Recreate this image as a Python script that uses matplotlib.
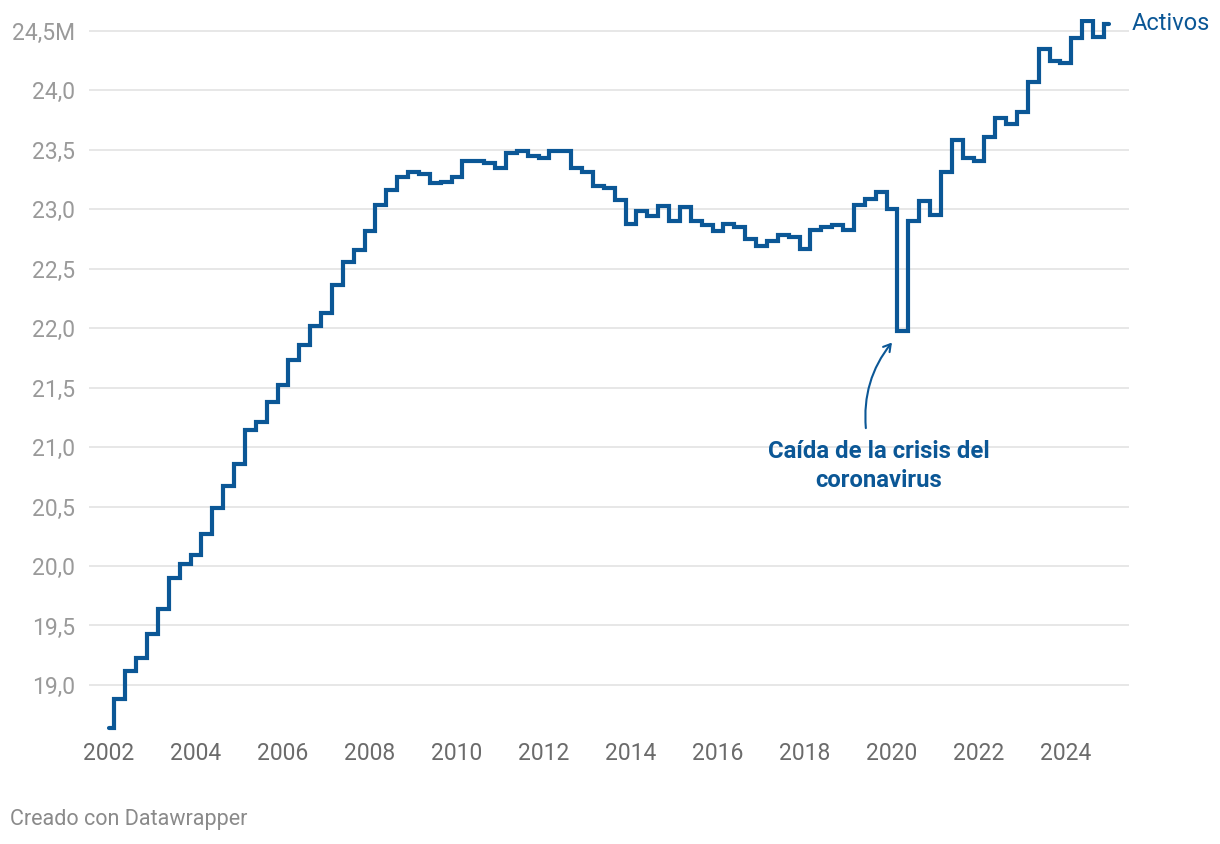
import numpy as np
import matplotlib.pyplot as plt

plt.rcParams['font.family'] = ['Roboto', 'DejaVu Sans']

# Población activa (millones), trimestral, 2002T1 - 2025T1
activos = [
    18.64, 18.88, 19.12, 19.23,   # 2002
    19.43, 19.64, 19.90, 20.02,   # 2003
    20.09, 20.27, 20.49, 20.67,   # 2004
    20.86, 21.14, 21.21, 21.38,   # 2005
    21.52, 21.73, 21.86, 22.02,   # 2006
    22.13, 22.36, 22.56, 22.66,   # 2007
    22.82, 23.04, 23.16, 23.27,   # 2008
    23.31, 23.30, 23.22, 23.23,   # 2009
    23.27, 23.41, 23.41, 23.39,   # 2010
    23.35, 23.47, 23.49, 23.45,   # 2011
    23.43, 23.49, 23.49, 23.35,   # 2012
    23.31, 23.20, 23.18, 23.08,   # 2013
    22.88, 22.99, 22.94, 23.03,   # 2014
    22.90, 23.02, 22.90, 22.87,   # 2015
    22.82, 22.88, 22.85, 22.75,   # 2016
    22.69, 22.73, 22.78, 22.77,   # 2017
    22.67, 22.83, 22.85, 22.87,   # 2018
    22.83, 23.04, 23.09, 23.15,   # 2019
    23.00, 21.98, 22.90, 23.07,   # 2020
    22.95, 23.31, 23.58, 23.43,   # 2021
    23.41, 23.61, 23.77, 23.72,   # 2022
    23.82, 24.07, 24.35, 24.25,   # 2023
    24.23, 24.44, 24.58, 24.45,   # 2024
    24.56,                        # 2025
]
fechas = 2002 + np.arange(len(activos)) * 0.25

anios = list(range(2002, 2025, 2))
yticks = [19.0, 19.5, 20.0, 20.5, 21.0, 21.5, 22.0, 22.5, 23.0, 23.5, 24.0, 24.5]
ylabels = [f"{v:.1f}".replace(".", ",") for v in yticks]
ylabels[-1] = ylabels[-1] + "M"

azul = '#0b5796'

fig = plt.figure(figsize=(12.2, 8.44), dpi=100)
ax = fig.add_axes([89 / 1220, 1 - 732.5 / 844, 1040 / 1220, (732.5 - 19.1) / 844])

ax.step(fechas, activos, where='mid', color=azul, lw=3.0, solid_joinstyle='miter',
        solid_capstyle='round', zorder=3)

ax.set_xlim(2001.54, 2025.45)
ax.set_ylim(18.6, 24.6)
ax.set_yticks(yticks)
ax.set_yticklabels(ylabels)
ax.set_xticks(anios)
ax.set_xticklabels([str(a) for a in anios])
ax.grid(axis='y', color='#e3e3e3', lw=1.2)
ax.set_axisbelow(True)
for s in ax.spines.values():
    s.set_visible(False)
ax.tick_params(axis='y', length=0, pad=10, labelsize=16.5, labelcolor='#9a9a9a')
ax.tick_params(axis='x', length=0, pad=7, labelsize=16.5, labelcolor='#6b6b6b')

ax.text(fechas[-1] + 0.5, activos[-1], "Activos", color=azul, fontsize=17,
        va='center', ha='left', clip_on=False)

ax.text(2019.70, 20.84, "Caída de la crisis del\ncoronavirus", ha='center', va='center',
        fontsize=17.2, fontweight='bold', color=azul, linespacing=1.3)
ax.annotate("", xy=(2020.0, 21.88), xytext=(2019.40, 21.16),
            arrowprops=dict(arrowstyle='->,head_length=0.5,head_width=0.3', color=azul,
                            lw=1.5, connectionstyle='arc3,rad=-0.2',
                            shrinkA=0, shrinkB=0))

fig.text(10 / 1220, 1 - 820 / 844, "Creado con Datawrapper", fontsize=15.5,
         color='#8a8a8a', ha='left', va='center')

fig.savefig('out.png', dpi=100)
